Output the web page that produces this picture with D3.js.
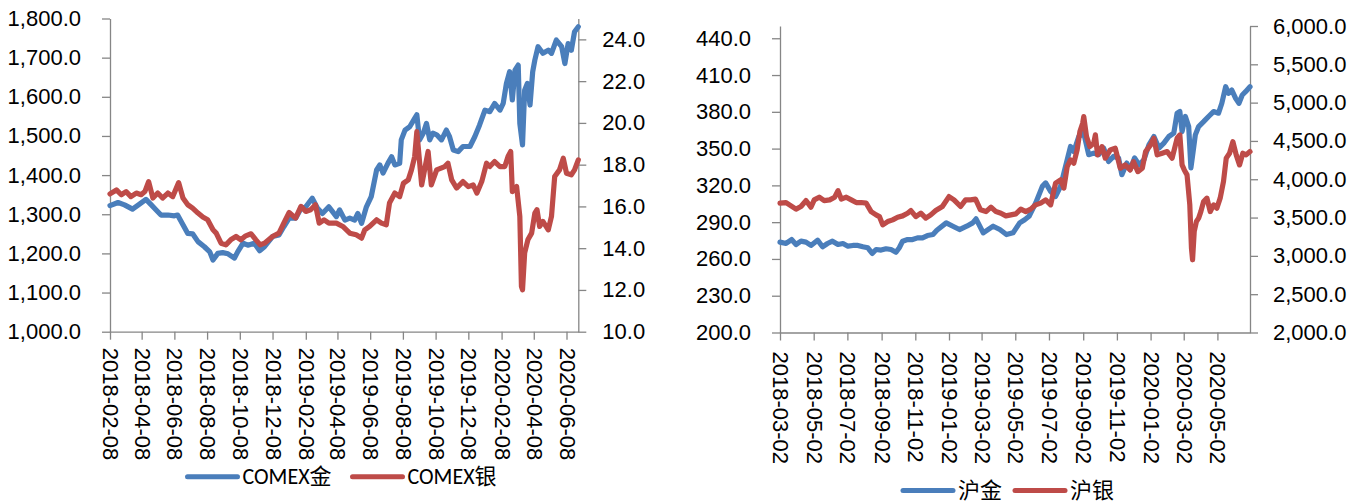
<!DOCTYPE html>
<html><head><meta charset="utf-8">
<script src="https://cdn.jsdelivr.net/npm/d3@7"></script>
<style>
html,body{margin:0;padding:0;background:#fff;}
svg{display:block;font-family:Carlito,Calibri,Lato,"Noto Sans CJK SC",sans-serif;}
</style></head>
<body>
<svg id="chart" width="1352" height="504"></svg>
<script>
// ---------- data ----------
const comexGoldDates = ["2018-02-08","2018-02-23","2018-03-07","2018-03-22","2018-04-04","2018-04-16","2018-04-26","2018-05-05","2018-05-14","2018-05-27","2018-06-08","2018-06-14","2018-06-24","2018-07-03","2018-07-12","2018-07-22","2018-08-03","2018-08-13","2018-08-19","2018-08-28","2018-09-06","2018-09-16","2018-09-28","2018-10-04","2018-10-14","2018-10-23","2018-11-04","2018-11-14","2018-11-23","2018-12-08","2018-12-20","2018-12-29","2019-01-08","2019-01-20","2019-01-30","2019-02-08","2019-02-20","2019-03-02","2019-03-11","2019-03-23","2019-04-06","2019-04-12","2019-04-22","2019-05-01","2019-05-10","2019-05-16","2019-05-23","2019-06-01","2019-06-10","2019-06-20","2019-06-26","2019-07-02","2019-07-11","2019-07-18","2019-07-24","2019-08-02","2019-08-05","2019-08-12","2019-08-21","2019-08-30","2019-09-03","2019-09-08","2019-09-15","2019-09-21","2019-09-27","2019-10-03","2019-10-10","2019-10-19","2019-10-28","2019-11-03","2019-11-10","2019-11-19","2019-11-28","2019-12-11","2019-12-20","2019-12-29","2020-01-08","2020-01-17","2020-01-26","2020-02-05","2020-02-11","2020-02-17","2020-02-23","2020-02-28","2020-03-04","2020-03-10","2020-03-13","2020-03-18","2020-03-22","2020-03-27","2020-04-01","2020-04-06","2020-04-10","2020-04-16","2020-04-25","2020-05-05","2020-05-11","2020-05-20","2020-05-30","2020-06-05","2020-06-11","2020-06-17","2020-06-23","2020-06-30"];
const comexGold = [1322,1330,1324,1313,1326,1338,1324,1311,1298,1298,1296,1298,1273,1251,1250,1230,1217,1204,1183,1200,1202,1199,1188,1204,1226,1221,1226,1207,1217,1243,1247,1268,1290,1290,1315,1319,1341,1315,1302,1319,1294,1311,1285,1290,1285,1302,1277,1319,1345,1413,1426,1405,1430,1447,1426,1430,1490,1515,1524,1545,1554,1490,1507,1532,1490,1507,1503,1490,1515,1498,1464,1460,1473,1473,1498,1528,1566,1562,1583,1566,1583,1634,1664,1592,1668,1681,1532,1477,1617,1634,1579,1664,1694,1728,1711,1719,1711,1745,1728,1685,1736,1719,1766,1779];

const comexSilverDates = ["2018-02-08","2018-02-20","2018-03-01","2018-03-10","2018-03-19","2018-03-29","2018-04-07","2018-04-14","2018-04-21","2018-04-29","2018-05-08","2018-05-17","2018-05-27","2018-06-05","2018-06-16","2018-06-24","2018-07-03","2018-07-12","2018-07-22","2018-07-31","2018-08-09","2018-08-19","2018-08-25","2018-09-03","2018-09-12","2018-09-21","2018-10-01","2018-10-10","2018-10-19","2018-10-29","2018-11-07","2018-11-15","2018-11-23","2018-12-08","2018-12-20","2018-12-29","2019-01-08","2019-01-20","2019-01-30","2019-02-08","2019-02-17","2019-02-26","2019-03-05","2019-03-14","2019-03-23","2019-04-06","2019-04-18","2019-05-01","2019-05-13","2019-05-23","2019-05-29","2019-06-07","2019-06-20","2019-06-29","2019-07-08","2019-07-14","2019-07-24","2019-08-02","2019-08-09","2019-08-18","2019-08-24","2019-08-30","2019-09-03","2019-09-12","2019-09-24","2019-09-30","2019-10-10","2019-10-25","2019-10-31","2019-11-07","2019-11-16","2019-11-28","2019-12-08","2019-12-17","2019-12-24","2020-01-02","2020-01-11","2020-01-17","2020-01-26","2020-02-05","2020-02-14","2020-02-20","2020-02-25","2020-02-28","2020-03-07","2020-03-13","2020-03-16","2020-03-18","2020-03-22","2020-03-28","2020-04-04","2020-04-10","2020-04-14","2020-04-19","2020-04-25","2020-05-05","2020-05-11","2020-05-17","2020-05-26","2020-06-02","2020-06-08","2020-06-17","2020-06-23","2020-06-30"];
const comexSilver = [16.60,16.79,16.56,16.71,16.47,16.64,16.56,16.71,17.19,16.40,16.64,16.40,16.64,16.47,17.14,16.40,16.08,15.92,15.68,15.49,15.36,14.88,14.72,14.24,14.16,14.40,14.56,14.40,14.59,14.69,14.40,14.16,14.24,14.56,14.72,15.20,15.71,15.44,16.00,15.76,15.84,16.08,15.20,15.36,15.20,15.20,15.04,14.72,14.64,14.48,14.88,15.04,15.36,15.20,15.12,16.16,16.64,16.47,17.11,17.27,17.75,18.39,19.58,17.03,18.63,17.03,17.75,17.91,18.07,17.27,16.88,17.19,16.95,17.03,16.64,17.19,18.07,17.91,18.15,17.91,17.91,18.39,18.63,16.71,16.95,15.52,12.17,12.01,13.77,14.40,14.72,15.68,15.84,15.04,15.28,14.88,15.52,17.43,17.75,18.31,17.59,17.51,17.75,18.23];

const shGoldDates = ["2018-03-02","2018-03-13","2018-03-23","2018-03-31","2018-04-09","2018-04-18","2018-04-27","2018-05-09","2018-05-18","2018-05-27","2018-06-05","2018-06-15","2018-06-24","2018-07-03","2018-07-12","2018-07-21","2018-07-30","2018-08-08","2018-08-16","2018-08-23","2018-09-01","2018-09-10","2018-09-19","2018-09-28","2018-10-04","2018-10-10","2018-10-19","2018-10-28","2018-11-06","2018-11-15","2018-11-24","2018-12-04","2018-12-11","2018-12-28","2019-01-09","2019-01-21","2019-02-03","2019-02-14","2019-02-20","2019-03-05","2019-03-23","2019-04-04","2019-04-16","2019-04-28","2019-05-10","2019-05-19","2019-05-27","2019-06-08","2019-06-20","2019-06-26","2019-07-05","2019-07-14","2019-07-23","2019-08-01","2019-08-10","2019-08-16","2019-08-25","2019-09-03","2019-09-12","2019-09-21","2019-09-30","2019-10-09","2019-10-18","2019-10-27","2019-11-05","2019-11-11","2019-11-20","2019-11-26","2019-12-04","2019-12-12","2019-12-21","2019-12-30","2020-01-08","2020-01-17","2020-01-26","2020-02-04","2020-02-13","2020-02-19","2020-02-24","2020-02-28","2020-03-05","2020-03-11","2020-03-15","2020-03-19","2020-03-23","2020-03-29","2020-04-07","2020-04-16","2020-04-25","2020-05-04","2020-05-10","2020-05-17","2020-05-22","2020-05-28","2020-06-04","2020-06-10","2020-06-16","2020-06-22","2020-06-30"];
const shGold = [273.7,272.6,275.8,271.8,274.5,273.7,271.0,275.3,269.9,272.6,274.5,271.8,272.6,270.4,271.0,271.0,269.9,269.1,264.5,267.7,267.2,268.3,267.7,265.5,269.1,274.5,275.8,275.8,277.2,277.2,279.1,279.9,283.4,289.4,286.7,284.0,286.7,289.4,292.7,281.3,286.7,284.0,279.9,281.3,289.4,292.0,294.8,305.7,319.2,322.0,315.1,311.0,319.2,335.5,351.7,347.6,359.8,362.6,345.0,346.3,345.0,350.4,339.5,343.6,342.3,328.7,338.2,332.8,342.3,336.8,340.9,353.1,359.9,350.4,354.5,359.9,362.6,378.9,380.2,363.9,376.2,368.0,334.2,347.6,361.2,368.0,372.0,376.2,380.2,378.9,387.0,400.5,395.1,397.8,391.0,387.0,393.7,396.4,400.5];

const shSilverDates = ["2018-03-02","2018-03-13","2018-03-22","2018-03-31","2018-04-09","2018-04-18","2018-04-27","2018-05-03","2018-05-12","2018-05-21","2018-05-31","2018-06-09","2018-06-15","2018-06-21","2018-06-30","2018-07-09","2018-07-18","2018-07-27","2018-08-05","2018-08-14","2018-08-23","2018-08-29","2018-09-04","2018-09-13","2018-09-22","2018-10-01","2018-10-10","2018-10-19","2018-10-25","2018-11-03","2018-11-12","2018-11-21","2018-11-30","2018-12-09","2018-12-21","2019-01-02","2019-01-11","2019-01-23","2019-02-01","2019-02-10","2019-02-19","2019-02-28","2019-03-10","2019-03-19","2019-03-28","2019-04-06","2019-04-15","2019-04-24","2019-05-03","2019-05-12","2019-05-21","2019-05-30","2019-06-08","2019-06-17","2019-06-26","2019-07-05","2019-07-14","2019-07-23","2019-07-29","2019-08-04","2019-08-10","2019-08-16","2019-08-22","2019-08-27","2019-09-01","2019-09-03","2019-09-08","2019-09-14","2019-09-21","2019-09-24","2019-09-28","2019-10-06","2019-10-12","2019-10-21","2019-10-30","2019-11-08","2019-11-17","2019-11-26","2019-12-02","2019-12-10","2019-12-18","2019-12-24","2020-01-02","2020-01-08","2020-01-14","2020-01-23","2020-02-01","2020-02-10","2020-02-19","2020-02-24","2020-02-28","2020-03-03","2020-03-08","2020-03-13","2020-03-16","2020-03-18","2020-03-21","2020-03-25","2020-03-29","2020-04-02","2020-04-07","2020-04-13","2020-04-19","2020-04-25","2020-05-01","2020-05-07","2020-05-13","2020-05-18","2020-05-24","2020-05-30","2020-06-05","2020-06-11","2020-06-17","2020-06-23","2020-06-30"];
const shSilver = [3688,3696,3653,3610,3644,3722,3636,3731,3766,3722,3731,3766,3852,3740,3766,3731,3696,3696,3688,3578,3535,3513,3405,3448,3470,3505,3522,3557,3591,3513,3557,3492,3535,3591,3644,3774,3731,3644,3731,3731,3740,3601,3578,3636,3578,3557,3522,3535,3548,3610,3578,3610,3666,3688,3731,3666,3949,3992,3884,4165,4253,4210,4383,4622,4731,4817,4556,4426,4470,4579,4318,4426,4275,4383,4405,4144,4187,4122,4230,4100,4144,4361,4448,4535,4318,4340,4361,4275,4535,4579,4187,4122,4057,3666,3101,2949,3318,3448,3492,3578,3709,3753,3578,3666,3623,3753,3970,4275,4340,4491,4318,4187,4340,4318,4361];

const leftXTicks = ["2018-02-08","2018-04-08","2018-06-08","2018-08-08","2018-10-08","2018-12-08","2019-02-08","2019-04-08","2019-06-08","2019-08-08","2019-10-08","2019-12-08","2020-02-08","2020-04-08","2020-06-08"];
const rightXTicks = ["2018-03-02","2018-05-02","2018-07-02","2018-09-02","2018-11-02","2019-01-02","2019-03-02","2019-05-02","2019-07-02","2019-09-02","2019-11-02","2020-01-02","2020-03-02","2020-05-02"];
const comexGoldTicks = [1000,1100,1200,1300,1400,1500,1600,1700,1800];
const comexSilverTicks = [10,12,14,16,18,20,22,24];
const shGoldTicks = [200,230,260,290,320,350,380,410,440];
const shSilverTicks = [2000,2500,3000,3500,4000,4500,5000,5500,6000];
const legendLeft = ["COMEX金","COMEX银"];
const legendRight = ["沪金","沪银"];

// ---------- drawing ----------
const parse = d3.utcParse("%Y-%m-%d");
const fmtDate = d3.utcFormat("%Y-%m-%d");
const fmtNum = d3.format(",.1f");
const BLUE = "#4a7ebb", RED = "#be4b48", AXIS = "#868686";
const FS = 22;
const svg = d3.select("#chart");

function panel(cfg) {
  const x = d3.scaleUtc().domain([parse(cfg.xStart), parse(cfg.xEnd)]).range([cfg.x0, cfg.x1]);
  const yL = d3.scaleLinear().domain(cfg.lDomain).range([cfg.yb, cfg.yt]);
  const yR = d3.scaleLinear().domain(cfg.rDomain).range([cfg.yb, cfg.yt]);
  const g = svg.append("g");

  const style = sel => {
    sel.select(".domain").attr("stroke", AXIS).attr("stroke-width", 1.3);
    sel.selectAll(".tick line").attr("stroke", AXIS).attr("stroke-width", 1.3);
    sel.selectAll("text").attr("fill", "#000").style("font-size", FS + "px");
  };

  g.append("g").attr("transform", `translate(${cfg.x0},0)`)
    .call(d3.axisLeft(yL).tickValues(cfg.lTicks).tickSize(8).tickSizeOuter(0).tickPadding(cfg.lPad).tickFormat(fmtNum))
    .call(style);
  g.append("g").attr("transform", `translate(${cfg.x1},0)`)
    .call(d3.axisRight(yR).tickValues(cfg.rTicks).tickSize(8).tickSizeOuter(0).tickPadding(cfg.rPad).tickFormat(fmtNum))
    .call(style);
  const xa = g.append("g").attr("transform", `translate(0,${cfg.yb})`)
    .call(d3.axisBottom(x).tickValues(cfg.xTicks.map(parse)).tickSize(8).tickSizeOuter(0).tickFormat(fmtDate))
    .call(style);
  xa.selectAll(".tick text")
    .attr("transform", "rotate(90)")
    .attr("x", cfg.xLabOff).attr("y", 0).attr("dy", "0.34em")
    .style("text-anchor", "start");

  const line = (yScale) => d3.line().x(d => x(d[0])).y(d => yScale(d[1]));
  const s1 = cfg.d1.map((d, i) => [parse(d), cfg.v1[i]]);
  const s2 = cfg.d2.map((d, i) => [parse(d), cfg.v2[i]]);
  g.append("path").datum(s1).attr("d", line(yL)).attr("fill", "none")
    .attr("stroke", BLUE).attr("stroke-width", 5.2).attr("stroke-linejoin", "round").attr("stroke-linecap", "round");
  g.append("path").datum(s2).attr("d", line(yR)).attr("fill", "none")
    .attr("stroke", RED).attr("stroke-width", 5.2).attr("stroke-linejoin", "round").attr("stroke-linecap", "round");

  // legend
  const lg = g.append("g").attr("transform", `translate(0,${cfg.legY})`);
  [[BLUE, cfg.legNames[0], cfg.legX[0]], [RED, cfg.legNames[1], cfg.legX[1]]].forEach(([c, t, lx]) => {
    lg.append("line").attr("x1", lx).attr("x2", lx + 50).attr("y1", 0).attr("y2", 0)
      .attr("stroke", c).attr("stroke-width", 5).attr("stroke-linecap", "round");
    lg.append("text").attr("x", lx + 55).attr("y", 0).attr("dy", "0.35em")
      .style("font-size", FS + "px").attr("fill", "#000").text(t);
  });
}

panel({
  xStart: "2018-02-08", xEnd: "2020-06-30", x0: 110, x1: 578.3, yt: 18.5, yb: 331.7,
  lDomain: [1000, 1800], rDomain: [10, 25], lTicks: comexGoldTicks, rTicks: comexSilverTicks,
  lPad: 21, rPad: 16, xTicks: leftXTicks, xLabOff: 16,
  d1: comexGoldDates, v1: comexGold, d2: comexSilverDates, v2: comexSilver,
  legY: 476.7, legX: [187.5, 352.5], legNames: legendLeft
});
panel({
  xStart: "2018-03-02", xEnd: "2020-06-30", x0: 780, x1: 1250, yt: 26, yb: 332.5,
  lDomain: [200, 450], rDomain: [2000, 6000], lTicks: shGoldTicks, rTicks: shSilverTicks,
  lPad: 21, rPad: 15, xTicks: rightXTicks, xLabOff: 19,
  d1: shGoldDates, v1: shGold, d2: shSilverDates, v2: shSilver,
  legY: 490.5, legX: [903, 1015], legNames: legendRight
});
</script>
</body></html>
